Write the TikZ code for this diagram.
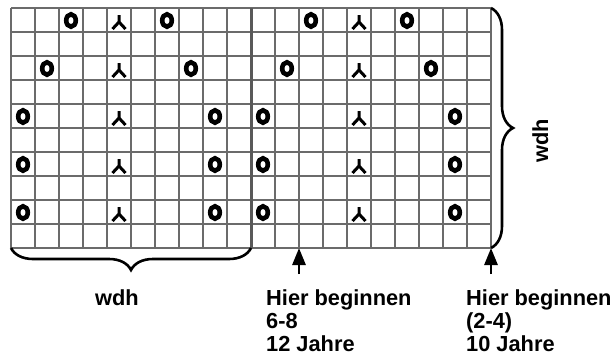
\documentclass[tikz,border=0pt]{standalone}
\usepackage{fontspec}
\setmainfont{Liberation Sans}
\usetikzlibrary{arrows.meta,decorations.pathreplacing}

\begin{document}
\begin{tikzpicture}[x=1pt, y=-1pt,
    cellline/.style={black!58, line width=1.5pt},
    midline/.style={black!65, line width=3pt},
    ring/.style={line width=4.6pt},
    decr/.style={line width=3pt},
    wdhbrace/.style={decorate, decoration={brace, amplitude=22pt}, line width=2.6pt},
    startarrow/.style={-{Triangle[length=17pt,width=13pt]}, line width=2.8pt},
    lbl/.style={font=\bfseries\fontsize{21.8}{23}\selectfont, inner sep=0pt}]
    \useasboundingbox (0,0) rectangle (613,356);
    % raster, 20 x 10 cells
    \foreach \c in {0,...,20} \draw[cellline] (11+24*\c,8) -- (11+24*\c,248);
    \foreach \r in {0,...,10} \draw[cellline] (11,8+24*\r) -- (491,8+24*\r);
    \draw[midline] (251,8) -- (251,248);
    % pattern, same in both halves
    \foreach \h in {0,240} {
        \foreach \r/\c in {0/2,0/6,2/1,2/7,4/0,4/8,6/0,6/8,8/0,8/8}
            \draw[ring] (23+\h+24*\c,20.5+24*\r) ellipse [x radius=4.8pt, y radius=6.2pt];
        \foreach \r in {0,2,4,6,8}
            \draw[decr] (119+\h,15+24*\r) -- (119+\h,22.5+24*\r)
                (112.5+\h,29+24*\r) -- (119+\h,22+24*\r) -- (125.5+\h,29+24*\r);
    }
    % braces
    \coordinate (bl) at (11,248);
    \coordinate (bm) at (251,248);
    \coordinate (tr) at (491,8);
    \coordinate (br) at (491,248);
    \draw[wdhbrace] (bm) -- (bl);
    \draw[wdhbrace] (tr) -- (br);
    \node[lbl, anchor=base] (wdhb) at (117,305) {wdh};
    \node[lbl, rotate=90, anchor=base] (wdhr) at (548,141) {wdh};
    % start marks
    \coordinate (a612) at (299,274);
    \coordinate (t612) at (299,248);
    \coordinate (a10) at (491,274);
    \draw[startarrow] (a612) -- (t612);
    \draw[startarrow] (a10) -- (br);
    \node[lbl, anchor=north west, align=left] (beg612) at (266,289) {Hier beginnen\\6-8\\12 Jahre};
    \node[lbl, anchor=north west, align=left] (beg10) at (466,289) {Hier beginnen\\(2-4)\\10 Jahre};
\end{tikzpicture}
\end{document}
